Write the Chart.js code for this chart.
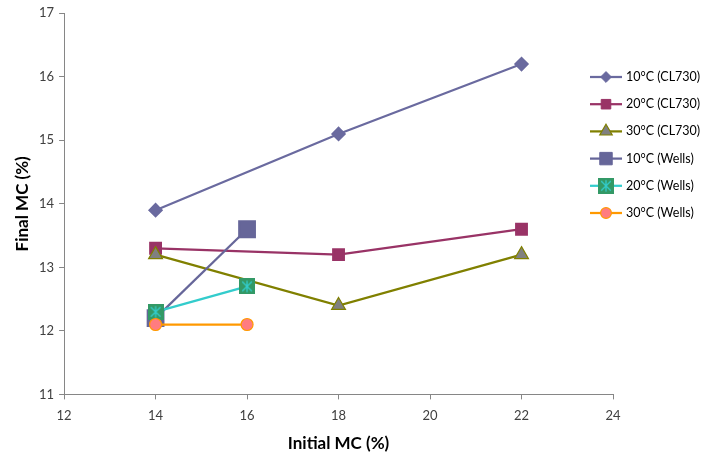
<!DOCTYPE html>
<html>
<head>
<meta charset="utf-8">
<script src="https://cdn.jsdelivr.net/npm/chart.js@4"></script>
<style>
  html, body { margin: 0; padding: 0; background: #fff; }
  #wrap { width: 702px; height: 454px; }
</style>
</head>
<body>
<div id="wrap"><canvas id="myChart"></canvas></div>
<script>
const seriesNames = ['10°C (CL730)', '20°C (CL730)', '30°C (CL730)', '10°C (Wells)', '20°C (Wells)', '30°C (Wells)'];
const clX = [14, 18, 22];
const wellsX = [14, 16];
const cl10 = [13.9, 15.1, 16.2];
const cl20 = [13.3, 13.2, 13.6];
const cl30 = [13.2, 12.4, 13.2];
const wells10 = [12.2, 13.6];
const wells20 = [12.3, 12.7];
const wells30 = [12.1, 12.1];
const xTicks = [12, 14, 16, 18, 20, 22, 24];
const yTicks = [11, 12, 13, 14, 15, 16, 17];

// green square with a turquoise asterisk (Excel marker)
function starSquare(size) {
  const c = document.createElement('canvas');
  c.width = size; c.height = size;
  const g = c.getContext('2d');
  g.fillStyle = '#339966';
  g.fillRect(0, 0, size, size);
  g.strokeStyle = '#33cccc';
  g.lineWidth = 1.3;
  const m = size / 2, d = size * 0.3;
  g.beginPath();
  g.moveTo(m - d, m - d); g.lineTo(m + d, m + d);
  g.moveTo(m + d, m - d); g.lineTo(m - d, m + d);
  g.moveTo(m, m - d * 1.2); g.lineTo(m, m + d * 1.2);
  g.stroke();
  return c;
}
const starImg = starSquare(16);

const pts = (xs, ys) => xs.map((x, i) => ({ x: x, y: ys[i] }));

const datasets = [
  { label: seriesNames[0], data: pts(clX, cl10), borderColor: '#6a6a9f', backgroundColor: '#6a6a9f',
    pointStyle: 'rectRot', pointRadius: 6, pointBorderColor: '#6a6a9f' },
  { label: seriesNames[1], data: pts(clX, cl20), borderColor: '#993366', backgroundColor: '#993366',
    pointStyle: 'rect', pointRadius: 7.5, pointBorderColor: '#993366' },
  { label: seriesNames[2], data: pts(clX, cl30), borderColor: '#808000', backgroundColor: '#808080',
    pointStyle: 'triangle', pointRadius: 8, pointBorderColor: '#808000', pointBorderWidth: 1.2 },
  { label: seriesNames[3], data: pts(wellsX, wells10), borderColor: '#666699', backgroundColor: '#666699',
    pointStyle: 'rect', pointRadius: 11, pointBorderColor: '#666699' },
  { label: seriesNames[4], data: pts(wellsX, wells20), borderColor: '#33cccc', backgroundColor: '#339966',
    pointStyle: starImg, pointRadius: 8 },
  { label: seriesNames[5], data: pts(wellsX, wells30), borderColor: '#ff9900', backgroundColor: '#ff7c80',
    pointStyle: 'circle', pointRadius: 6, pointBorderColor: '#ff9900', pointBorderWidth: 1.2 }
];
datasets.forEach((d, i) => {
  d.borderWidth = 2.25;
  d.showLine = true;
  d.tension = 0;
  d.pointBackgroundColor = d.backgroundColor;
  d.pointHoverRadius = d.pointRadius;
  d.order = datasets.length - i;
});

// Excel style legend: short line with marker, on the right
const sideLegend = {
  id: 'sideLegend',
  afterDraw(chart) {
    const ctx = chart.ctx;
    const x0 = 590, x1 = 622, top = 77, gap = 27.2;
    ctx.save();
    chart.data.datasets.forEach((d, i) => {
      const y = top + i * gap;
      ctx.strokeStyle = d.borderColor;
      ctx.lineWidth = d.borderWidth;
      ctx.beginPath();
      ctx.moveTo(x0, y); ctx.lineTo(x1, y);
      ctx.stroke();
      ctx.fillStyle = d.pointBackgroundColor;
      ctx.strokeStyle = d.pointBorderColor || d.borderColor;
      ctx.lineWidth = d.pointBorderWidth || 1;
      Chart.helpers.drawPoint(ctx, {
        pointStyle: d.pointStyle, radius: d.pointRadius * (d.pointStyle === 'rect' && d.pointRadius > 8 ? 0.8 : 0.9),
        rotation: 0, borderWidth: d.pointBorderWidth || 1
      }, (x0 + x1) / 2, y);
      ctx.fillStyle = '#000';
      ctx.font = '12.5px Lato, "Liberation Sans", sans-serif';
      ctx.textBaseline = 'middle';
      ctx.textAlign = 'left';
      ctx.fillText(d.label, x1 + 4, y);
    });
    ctx.restore();
  }
};

const tickFont = { family: 'Lato, "Liberation Sans", sans-serif', size: 13 };
const titleFont = { family: 'Lato, "Liberation Sans", sans-serif', size: 17, weight: 'bold', lineHeight: 1 };

new Chart(document.getElementById('myChart'), {
  type: 'scatter',
  data: { datasets: datasets },
  options: {
    responsive: true,
    maintainAspectRatio: false,
    animation: false,
    layout: { padding: { top: 4, right: 89, left: 10, bottom: 2 } },
    plugins: { legend: { display: false }, tooltip: { enabled: false } },
    scales: {
      x: {
        type: 'linear', min: 12, max: 24,
        afterBuildTicks: (s) => { s.ticks = xTicks.map(v => ({ value: v })); },
        grid: { display: true, drawOnChartArea: false, drawTicks: true, tickLength: 5, color: '#868686' },
        border: { color: '#868686', width: 1 },
        ticks: { color: '#404040', font: tickFont, padding: 9 },
        title: { display: true, text: 'Initial MC (%)', color: '#000', font: titleFont, padding: { top: 2, bottom: 0 } }
      },
      y: {
        type: 'linear', min: 11, max: 17,
        afterBuildTicks: (s) => { s.ticks = yTicks.map(v => ({ value: v })); },
        grid: { display: true, drawOnChartArea: false, drawTicks: true, tickLength: 5, color: '#868686' },
        border: { color: '#868686', width: 1 },
        ticks: { color: '#404040', font: tickFont, padding: 5 },
        title: { display: true, text: 'Final MC (%)', color: '#000', font: titleFont, padding: { bottom: 3 } }
      }
    }
  },
  plugins: [sideLegend]
});
</script>
</body>
</html>
